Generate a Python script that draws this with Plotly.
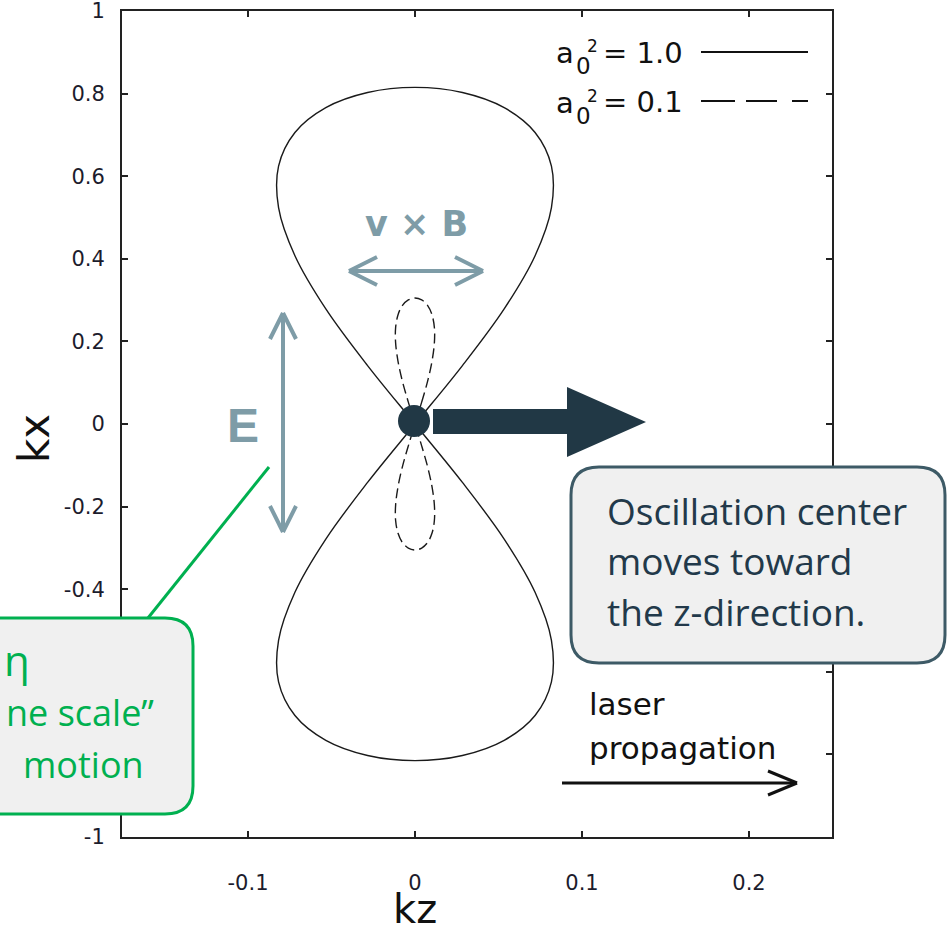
import plotly.graph_objects as go

# ---------------- data ----------------
# a0^2 = 1.0 trajectory (kz, kx)
solid_kz = [0, 0.0284, 0.0534, 0.0719, 0.0817, 0.0817, 0.0719, 0.0534, 0.0284, 0,
            -0.0284, -0.0534, -0.0719, -0.0817, -0.0817, -0.0719, -0.0534, -0.0284, 0,
            0.0284, 0.0534, 0.0719, 0.0817, 0.0817, 0.0719, 0.0534, 0.0284, 0,
            -0.0284, -0.0534, -0.0719, -0.0817, -0.0817, -0.0719, -0.0534, -0.0284, 0]
solid_kx = [0, 0.1415, 0.2787, 0.4075, 0.5239, 0.6243, 0.7058, 0.7659, 0.8026, 0.815,
            0.8026, 0.7659, 0.7058, 0.6243, 0.5239, 0.4075, 0.2787, 0.1415, 0,
            -0.1415, -0.2787, -0.4075, -0.5239, -0.6243, -0.7058, -0.7659, -0.8026, -0.815,
            -0.8026, -0.7659, -0.7058, -0.6243, -0.5239, -0.4075, -0.2787, -0.1415, 0]
# a0^2 = 0.1 trajectory (kz, kx)
dashed_kz = [0, 0.0040, 0.0076, 0.0102, 0.0116, 0.0116, 0.0102, 0.0076, 0.0040, 0,
             -0.0040, -0.0076, -0.0102, -0.0116, -0.0116, -0.0102, -0.0076, -0.0040, 0,
             0.0040, 0.0076, 0.0102, 0.0116, 0.0116, 0.0102, 0.0076, 0.0040, 0,
             -0.0040, -0.0076, -0.0102, -0.0116, -0.0116, -0.0102, -0.0076, -0.0040, 0]
dashed_kx = [0, 0.053, 0.1043, 0.1525, 0.1961, 0.2336, 0.2641, 0.2866, 0.3004, 0.305,
             0.3004, 0.2866, 0.2641, 0.2336, 0.1961, 0.1525, 0.1043, 0.053, 0,
             -0.053, -0.1043, -0.1525, -0.1961, -0.2336, -0.2641, -0.2866, -0.3004, -0.305,
             -0.3004, -0.2866, -0.2641, -0.2336, -0.1961, -0.1525, -0.1043, -0.053, 0]

x_tickvals = [-0.1, 0, 0.1, 0.2]
x_ticktext = ["-0.1", "0", "0.1", "0.2"]
y_tickvals = [-1, -0.8, -0.6, -0.4, -0.2, 0, 0.2, 0.4, 0.6, 0.8, 1]
y_ticktext = ["-1", "-0.8", "-0.6", "-0.4", "-0.2", "0", "0.2", "0.4", "0.6", "0.8", "1"]

# ---------------- layout helpers (pixel -> paper) ----------------
W, H = 947, 931
L, R, T, B = 122, 832, 11, 837


def px(x):
    return (x - L) / (R - L)


def py(y):
    return (B - y) / (B - T)


def pt(x, y):
    return f"{px(x):.5f},{py(y):.5f}"


def rrect(x0, y0, x1, y1, r):
    return (f"M {pt(x0 + r, y0)} L {pt(x1 - r, y0)} Q {pt(x1, y0)} {pt(x1, y0 + r)} "
            f"L {pt(x1, y1 - r)} Q {pt(x1, y1)} {pt(x1 - r, y1)} "
            f"L {pt(x0 + r, y1)} Q {pt(x0, y1)} {pt(x0, y1 - r)} "
            f"L {pt(x0, y0 + r)} Q {pt(x0, y0)} {pt(x0 + r, y0)} Z")


def seg(x0, y0, x1, y1, color, width):
    return dict(type="line", xref="paper", yref="paper",
                x0=px(x0), y0=py(y0), x1=px(x1), y1=py(y1),
                line=dict(color=color, width=width), layer="above")


GP = "DejaVu Sans, Liberation Sans, sans-serif"
OS = "Open Sans, Noto Sans, sans-serif"


def ann(text, x, y, size, color, xanchor="left", family=GP, angle=0):
    return dict(text=text, x=px(x), y=py(y), xref="paper", yref="paper",
                xanchor=xanchor, yanchor="middle", showarrow=False, textangle=angle,
                font=dict(size=size, color=color, family=family))


fig = go.Figure()
fig.add_trace(go.Scatter(x=solid_kz, y=solid_kx, mode="lines",
                         line=dict(color="#1a1a1a", width=1.4, shape="spline", smoothing=1.0),
                         showlegend=False, hoverinfo="skip"))
fig.add_trace(go.Scatter(x=dashed_kz, y=dashed_kx, mode="lines",
                         line=dict(color="#1a1a1a", width=1.4, shape="spline", smoothing=1.0,
                                   dash="10px,5px"),
                         showlegend=False, hoverinfo="skip"))

axis_common = dict(ticks="inside", ticklen=6, tickwidth=1.5, tickcolor="#222",
                   showline=True, linecolor="#222", linewidth=2, mirror="ticks",
                   showgrid=False, zeroline=False, automargin=False,
                   ticklabeloverflow="allow",
                   tickfont=dict(family=GP, size=21, color="#1c1c2c"))

fig.update_layout(
    width=W, height=H,
    margin=dict(l=L, r=W - R, t=T, b=H - B, autoexpand=False),
    paper_bgcolor="white", plot_bgcolor="white",
    xaxis=dict(range=[-0.17545, 0.2497], tickvals=x_tickvals, ticktext=x_ticktext,
               ticklabelstandoff=26, **axis_common),
    yaxis=dict(range=[-1, 1], tickvals=y_tickvals, ticktext=y_ticktext,
               ticklabelstandoff=11, **axis_common),
    showlegend=False,
)

teal = "#7E9CA7"
navy = "#213845"
green = "#00B050"
shapes = []
# green callout line and box (left)
shapes.append(seg(148, 618, 269, 467, green, 3))
shapes.append(dict(type="path", xref="paper", yref="paper", path=rrect(-40, 618, 193, 814, 28),
                   fillcolor="#F0F0F0", line=dict(color=green, width=3), layer="above"))
# oscillation center box (right)
shapes.append(dict(type="path", xref="paper", yref="paper", path=rrect(571, 467, 945, 663, 28),
                   fillcolor="#F0F0F0", line=dict(color="#3D5A66", width=3), layer="above"))
# fat arrow
shapes.append(dict(type="path", xref="paper", yref="paper",
                   path=(f"M {pt(433, 409)} L {pt(567, 409)} L {pt(567, 387)} L {pt(646, 422)} "
                         f"L {pt(567, 457)} L {pt(567, 434)} L {pt(433, 434)} Z"),
                   fillcolor=navy, line=dict(width=0), layer="above"))
# centre dot
shapes.append(dict(type="circle", xref="paper", yref="paper",
                   x0=px(398), x1=px(430), y0=py(405), y1=py(437),
                   fillcolor=navy, line=dict(width=0), layer="above"))
# E double arrow
shapes += [seg(283, 314, 283, 531, teal, 4),
           seg(283, 313, 270, 339, teal, 4), seg(283, 313, 296, 339, teal, 4),
           seg(283, 532, 270, 506, teal, 4), seg(283, 532, 296, 506, teal, 4)]
# v x B double arrow
shapes += [seg(350, 271, 482, 271, teal, 4),
           seg(349, 271, 377, 257, teal, 4), seg(349, 271, 377, 285, teal, 4),
           seg(483, 271, 455, 257, teal, 4), seg(483, 271, 455, 285, teal, 4)]
# laser propagation arrow
shapes += [seg(562, 783, 796, 783, "#111", 3),
           seg(797, 783, 768, 771, "#111", 3), seg(797, 783, 768, 795, "#111", 3)]
# legend samples
shapes += [seg(701, 52, 808, 52, "#111", 2),
           seg(701, 101, 735, 101, "#111", 2), seg(746, 101, 777, 101, "#111", 2),
           seg(792, 101, 808, 101, "#111", 2)]
fig.update_layout(shapes=shapes)

anns = [
    # axis titles
    ann("kz", 415, 909, 40, "#111", xanchor="center"),
    ann("kx", 34, 439, 42, "#111", xanchor="center", angle=-90),
    # legend
    ann("a", 554, 53, 29, "#111"), ann("0", 574, 66.5, 23, "#111"), ann("2", 585, 46, 17, "#111"),
    ann("= 1.0", 601, 52.5, 29, "#111"),
    ann("a", 554, 103, 29, "#111"), ann("0", 574, 116.5, 23, "#111"), ann("2", 585, 96, 17, "#111"),
    ann("= 0.1", 601, 102.5, 29, "#111"),
    # laser propagation
    ann("laser", 587, 704, 31, "#111"),
    ann("propagation", 587, 748, 31, "#111"),
    # field labels
    ann("<b>v × B</b>", 416, 224, 35, teal, xanchor="center"),
    ann("<b>E</b>", 243, 425, 48, teal, xanchor="center",
        family="Liberation Sans, Arial, sans-serif"),
    # oscillation box text
    ann("Oscillation center", 605, 510, 37, "#22394A", family=OS),
    ann("moves toward", 605, 560, 37, "#22394A", family=OS),
    ann("the z-direction.", 605, 611, 37, "#22394A", family=OS),
    # green box text
    ann("η", 2, 659, 42, green, family=OS),
    ann("ne scale”", 156, 712, 36, green, xanchor="right", family=OS),
    ann("motion", 146, 764, 36, green, xanchor="right", family=OS),
]
fig.update_layout(annotations=anns)

fig.write_html("out.html", config={"displayModeBar": False},
               post_script="document.body.style.margin='0px';")
